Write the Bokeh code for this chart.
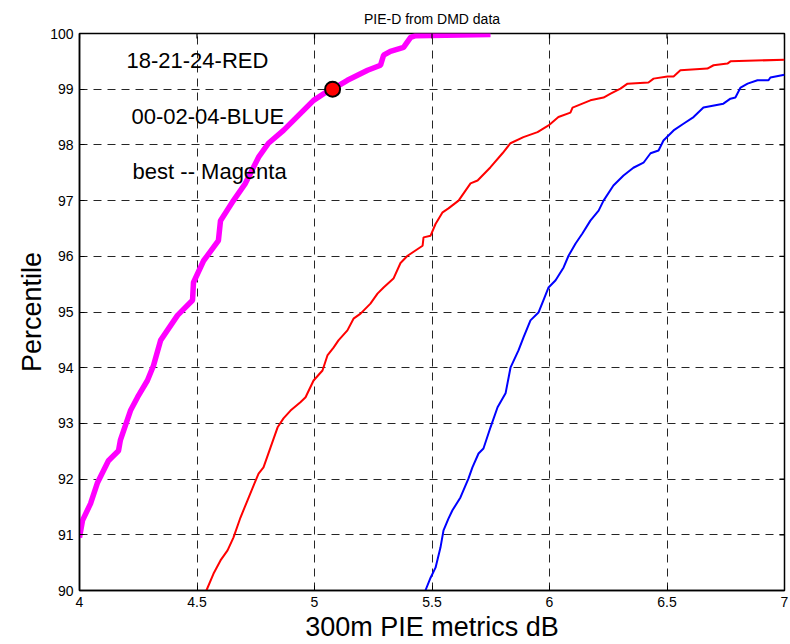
import math
from bokeh.plotting import figure
from bokeh.models import Range1d, FixedTicker, Label
from bokeh.embed import file_html
from bokeh.resources import INLINE

# ---- data ----
magenta_x = [4.0, 4.013, 4.047, 4.077, 4.123, 4.166, 4.174, 4.217, 4.247, 4.289, 4.315, 4.345,
             4.417, 4.481, 4.485, 4.528, 4.591, 4.6, 4.655, 4.706, 4.762, 4.804, 4.868, 4.932,
             4.996, 5.047, 5.077, 5.14, 5.226, 5.281, 5.294, 5.323, 5.379, 5.409, 5.43, 5.749]
magenta_y = [90.95, 91.26, 91.56, 91.94, 92.33, 92.51, 92.7, 93.23, 93.47, 93.77, 94.04, 94.49,
             94.94, 95.21, 95.53, 95.92, 96.28, 96.64, 97.0, 97.31, 97.78, 98.03, 98.26, 98.53,
             98.80, 98.94, 99.0, 99.16, 99.34, 99.43, 99.61, 99.68, 99.75, 99.93, 99.96, 99.98]

red_x = [4.54, 4.57, 4.60, 4.63, 4.655, 4.685, 4.715, 4.749, 4.762, 4.783, 4.813, 4.843, 4.868,
         4.898, 4.94, 4.962, 4.996, 5.034, 5.055, 5.081, 5.102, 5.14, 5.166, 5.196, 5.238, 5.268,
         5.294, 5.336, 5.366, 5.396, 5.46, 5.464, 5.494, 5.515, 5.545, 5.570, 5.613, 5.664, 5.694,
         5.749, 5.8, 5.834, 5.889, 5.949, 5.996, 6.038, 6.089, 6.098, 6.174, 6.23, 6.26, 6.302,
         6.332, 6.421, 6.443, 6.502, 6.528, 6.557, 6.672, 6.698, 6.757, 6.770, 7.0]
red_y = [90.0, 90.30, 90.54, 90.72, 90.95, 91.31, 91.62, 91.97, 92.10, 92.21, 92.57, 92.93, 93.09,
         93.23, 93.38, 93.47, 93.77, 93.95, 94.22, 94.36, 94.49, 94.67, 94.88, 94.97, 95.15, 95.33,
         95.44, 95.60, 95.88, 96.01, 96.19, 96.34, 96.37, 96.58, 96.79, 96.86, 97.0, 97.31, 97.36,
         97.6, 97.85, 98.03, 98.14, 98.23, 98.35, 98.50, 98.58, 98.67, 98.80, 98.85, 98.92, 99.01,
         99.10, 99.12, 99.19, 99.23, 99.23, 99.34, 99.37, 99.43, 99.46, 99.50, 99.53]

blue_x = [5.472, 5.494, 5.515, 5.536, 5.549, 5.570, 5.587, 5.621, 5.655, 5.672, 5.698, 5.719,
          5.749, 5.779, 5.813, 5.834, 5.868, 5.889, 5.919, 5.953, 5.974, 5.996, 6.026, 6.06,
          6.081, 6.111, 6.140, 6.174, 6.209, 6.23, 6.272, 6.315, 6.357, 6.4, 6.43, 6.464, 6.485,
          6.528, 6.570, 6.613, 6.655, 6.740, 6.770, 6.791, 6.813, 6.843, 6.885, 6.932, 6.940, 7.0]
blue_y = [90.0, 90.23, 90.41, 90.77, 91.08, 91.29, 91.44, 91.67, 92.01, 92.21, 92.46, 92.55,
          92.93, 93.29, 93.54, 94.0, 94.31, 94.54, 94.85, 94.99, 95.21, 95.44, 95.57, 95.80,
          96.01, 96.23, 96.41, 96.64, 96.82, 97.0, 97.27, 97.45, 97.59, 97.68, 97.85, 97.90, 98.08,
          98.26, 98.38, 98.50, 98.67, 98.74, 98.83, 98.85, 99.03, 99.10, 99.16, 99.16, 99.21, 99.26]

marker_x = [5.077]
marker_y = [99.0]

x_ticks = [4, 4.5, 5, 5.5, 6, 6.5, 7]
y_ticks = [90, 91, 92, 93, 94, 95, 96, 97, 98, 99, 100]
x_min, x_max = 4, 7
y_min, y_max = 90, 100

notes = ["18-21-24-RED", "00-02-04-BLUE", "best -- Magenta"]
notes_x = [4.2, 4.221, 4.226]
notes_y = [99.52, 98.51, 97.52]

FONT = "Liberation Sans"

p = figure(width=790, height=644, output_backend="svg", toolbar_location=None,
           x_range=Range1d(x_min, x_max), y_range=Range1d(y_min, y_max),
           min_border_left=79, min_border_right=6, min_border_top=33, min_border_bottom=54,
           title="PIE-D from DMD data")

p.title.text_font = FONT
p.title.text_font_size = "14px"
p.title.text_font_style = "normal"
p.title.align = "center"
p.title.text_color = "black"
p.title.standoff = 14

p.outline_line_color = "black"
p.outline_line_width = 1.5
p.outline_line_alpha = 1.0

for ax in (p.xaxis[0], p.yaxis[0]):
    ax.major_label_text_font = FONT
    ax.major_label_text_font_size = "14px"
    ax.major_label_text_color = "black"
    ax.axis_label_text_font = FONT
    ax.axis_label_text_font_style = "normal"
    ax.axis_label_text_color = "black"
    ax.major_tick_in = 5
    ax.major_tick_out = 0
    ax.minor_tick_in = 0
    ax.minor_tick_out = 0
    ax.axis_line_color = "black"
    ax.axis_line_width = 1.5
    ax.major_tick_line_color = "black"

p.xaxis.ticker = FixedTicker(ticks=x_ticks)
p.yaxis.ticker = FixedTicker(ticks=y_ticks)
p.xaxis.axis_label = "300m PIE metrics dB"
p.yaxis.axis_label = "Percentile"
p.xaxis.axis_label_text_font_size = "27px"
p.yaxis.axis_label_text_font_size = "27px"
p.xaxis.major_label_standoff = 6
p.yaxis.major_label_standoff = 6
p.xaxis.axis_label_standoff = 2
p.yaxis.axis_label_standoff = 0

p.xgrid.ticker = FixedTicker(ticks=x_ticks)
p.ygrid.ticker = FixedTicker(ticks=y_ticks)
for g in (p.xgrid[0], p.ygrid[0]):
    g.grid_line_color = "black"
    g.grid_line_alpha = 0.85
    g.grid_line_dash = "8 6"
    g.grid_line_width = 1

p.line(red_x, red_y, line_color="red", line_width=2)
p.line(blue_x, blue_y, line_color="blue", line_width=2)
p.line(magenta_x, magenta_y, line_color="magenta", line_width=5.5)
p.scatter(marker_x, marker_y, size=15, fill_color="red", line_color="black", line_width=2)

# inward tick marks on the top and right edges of the box (half of each dash is clipped)
p.scatter(x_ticks, [y_max] * len(x_ticks), marker="dash", size=10, angle=math.pi / 2,
          line_color="black", line_width=1.2)
p.scatter([x_max] * len(y_ticks), y_ticks, marker="dash", size=10,
          line_color="black", line_width=1.2)

for t, x, y in zip(notes, notes_x, notes_y):
    p.add_layout(Label(x=x, y=y, text=t, text_font=FONT, text_font_size="22px",
                       text_baseline="middle", text_align="left", text_color="black"))

open("out.html", "w").write(file_html(p, INLINE))
